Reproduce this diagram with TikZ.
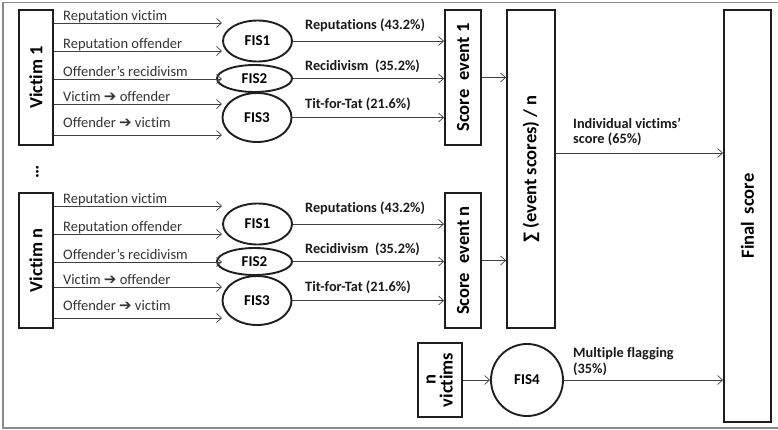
\documentclass[tikz,border=0pt]{standalone}
\usepackage{fontspec}
\usepackage{graphicx}
\setmainfont{Carlito}[Ligatures=NoCommon]
\newfontfamily\symfont{DejaVu Sans}
\usetikzlibrary{arrows.meta,shapes.geometric}

% heavy right arrow used inside the input labels
\newcommand{\rarr}{{\symfont\bfseries\fontsize{15}{15}\selectfont ➔}}

\begin{document}
\begin{tikzpicture}[x=1pt,y=-1pt,
  font=\fontsize{14.5}{16}\selectfont,
  heavy/.style={draw=black!88,line width=1.9pt,inner sep=0pt},
  bigtxt/.style={font=\fontsize{18.5}{20}\selectfont\bfseries},
  arr/.style={draw=black!75,line width=0.7pt,
    -{Straight Barb[length=5pt,width=9pt,line width=0.7pt]}},
  lbl/.style={anchor=base west,inner sep=0pt,text=black!80},
  blbl/.style={anchor=base west,inner sep=0pt,
    font=\fontsize{14.3}{16}\selectfont\bfseries,text=black!90},
  fis/.style={heavy,ellipse,font=\fontsize{15}{17}\selectfont\bfseries}]

\useasboundingbox (0,0) rectangle (778,429);
% outer frame
\draw[black!45,line width=1.2pt] (782,2.5) -- (3,2.5) -- (3,428) -- (782,428);

% one block per victim: inputs, fuzzy systems, event score
\foreach \g/\d in {1/0,n/183}{
  \node[heavy,bigtxt,minimum width=34,minimum height=135] (v\g) at (36,77.5+\d)
    {\rotatebox{90}{Victim \g}};
  \node[fis,minimum width=69,minimum height=41] (fa\g) at (257.5,41+\d) {FIS1};
  \node[fis,minimum width=75,minimum height=27] (fb\g) at (254.5,78.5+\d) {FIS2};
  \node[fis,minimum width=69,minimum height=49] (fc\g) at (257,117.5+\d) {FIS3};

  \foreach \yy/\by/\t in {23/20.5/Reputation victim,
                          51/48.5/Reputation offender,
                          79/76.5/Offender’s recidivism,
                          104/101/Victim \rarr{} offender,
                          135/127/Offender \rarr{} victim}{
    \coordinate (tip) at (222,\yy+\d);
    \draw[arr] (v\g.east |- tip) -- (tip);
    \node[lbl] (in) at (63,\by+\d) {\t};
  }

  \node[heavy,bigtxt,minimum width=36,minimum height=135] (s\g) at (463,77.5+\d)
    {\rotatebox{90}{Score\hspace{0.5em}event \g}};

  \draw[arr] (fa\g.east) -- (s\g.west |- fa\g.east);
  \draw[arr] (fb\g.east) -- (s\g.west |- fb\g.east);
  \draw[arr] (fc\g.east) -- (s\g.west |- fc\g.east);
  \node[blbl] (oa\g) at (305,29+\d) {Reputations (43.2\%)};
  \node[blbl] (ob\g) at (305,70+\d) {Recidivism\ \ (35.2\%)};
  \node[blbl] (oc\g) at (305,108+\d) {Tit-for-Tat (21.6\%)};
}

% vertical ellipsis between the two victim blocks
\node[bigtxt,inner sep=0pt] (dots) at (37.5,172) {\rotatebox{90}{…}};

% aggregation of the event scores
\node[heavy,bigtxt,minimum width=48,minimum height=318] (sum) at (531,169)
  {\rotatebox{90}{∑ (event scores) / n}};
\draw[arr] (s1.east) -- (sum.west |- s1.east);
\draw[arr] (sn.east) -- (sum.west |- sn.east);

% final score
\node[heavy,bigtxt,minimum width=47,minimum height=412] (fin) at (747.5,216)
  {\rotatebox{90}{Final\hspace{0.4em}score}};
\coordinate (ind) at (sum.east |- 0,153);
\draw[arr] (ind) -- (fin.west |- ind);
\node[blbl] (indl1) at (573,128) {Individual victims’};
\node[blbl] (indl2) at (573,143) {score (65\%)};

% multiple flagging branch
\node[heavy,bigtxt,minimum width=44,minimum height=74] (nv) at (440,380)
  {\rotatebox{90}{\begin{tabular}{@{}c@{}}n\\[-3pt]victims\end{tabular}}};
\node[heavy,circle,minimum size=72,font=\fontsize{15}{17}\selectfont\bfseries]
  (f4) at (527,380) {FIS4};
\draw[arr] (nv.east) -- (f4.west);
\draw[arr] (f4.east) -- (fin.west |- f4.east);
\node[blbl] (mf1) at (573,357) {Multiple flagging};
\node[blbl] (mf2) at (573,373) {(35\%)};
\end{tikzpicture}
\end{document}
